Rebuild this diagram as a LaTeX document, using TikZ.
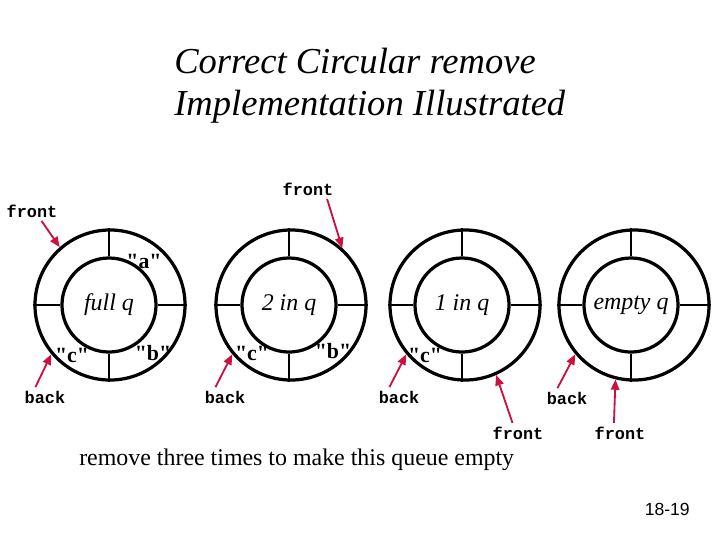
\documentclass[tikz,border=0pt]{standalone}
\usepackage{fontspec}
\setmainfont{Liberation Serif}
\setsansfont{Liberation Sans}
\setmonofont{Liberation Mono}
\newfontfamily\valfont{Liberation Serif}
\usetikzlibrary{arrows.meta}
\definecolor{qred}{HTML}{CC1040}
\tikzset{
  outerring/.style={circle, draw=black, line width=2.3pt, minimum size=3.75cm, inner sep=0pt},
  innerring/.style={circle, draw=black, line width=2.3pt, minimum size=2.35cm, inner sep=0pt,
    font=\fontsize{17}{19}\selectfont\itshape},
  spoke/.style={line width=1.6pt, black},
  val/.style={font=\fontsize{15.5}{17}\selectfont\valfont\bfseries, inner sep=1pt},
  ptrlbl/.style={font=\fontsize{12}{14}\selectfont\ttfamily\bfseries, inner sep=1.5pt},
  ptr/.style={-{Triangle[length=2.6mm, width=2.1mm]}, line width=1.3pt, qred, shorten <=1pt},
  ttl/.style={font=\fontsize{26}{30}\selectfont\itshape, inner sep=0pt},
}
\begin{document}
\begin{tikzpicture}[x=0.025cm, y=-0.025cm]
  \useasboundingbox (0,0) rectangle (720,540);
  % title
  \node[ttl, anchor=base west] (ttl1) at (174,73) {Correct Circular remove};
  \node[ttl, anchor=base west] (ttl2) at (174,115) {Implementation Illustrated};

  % the four queues
  \node[outerring] (r1) at (110,305) {};
  \node[innerring] (c1) at (109,305) {full q};
  \node[outerring] (r2) at (291,305) {};
  \node[innerring] (c2) at (289,305) {2 in q};
  \node[outerring] (r3) at (465,305) {};
  \node[innerring] (c3) at (462,305) {1 in q};
  \node[outerring] (r4) at (634,305) {};
  \node[innerring] (c4) at (631,305) {empty q};
  \foreach \i in {1,...,4}{
    \draw[spoke] (c\i.north) -- (c\i.north |- r\i.north);
    \draw[spoke] (c\i.south) -- (c\i.south |- r\i.south);
    \draw[spoke] (c\i.east) -- (r\i.east);
    \draw[spoke] (c\i.west) -- (r\i.west);
  }

  % stored values
  \node[val] (va1) at (144,261) {"a"};
  \node[val] (vb1) at (153,353) {"b"};
  \node[val] (vc1) at (72,355) {"c"};
  \node[val] (vb2) at (333,351) {"b"};
  \node[val] (vc2) at (252,353) {"c"};
  \node[val] (vc3) at (425,355) {"c"};

  % front and back pointers
  \node[ptrlbl] (f1) at (32,211) {front};
  \node[ptrlbl] (k1) at (45,397) {back};
  \node[ptrlbl] (f2) at (308,189) {front};
  \node[ptrlbl] (k2) at (225,397) {back};
  \node[ptrlbl] (k3) at (399,397) {back};
  \node[ptrlbl] (f3) at (518,433) {front};
  \node[ptrlbl] (k4) at (567,398) {back};
  \node[ptrlbl] (f4) at (620,433) {front};

  \draw[ptr] (f1.-45) -- (r1.131);
  \draw[ptr] (k1.140) -- (r1.220);
  \draw[ptr] (f2.-25) -- (r2.48);
  \draw[ptr] (k2.140) -- (r2.220);
  \draw[ptr] (k3.140) -- (r3.220);
  \draw[ptr] (f3.120) -- (r3.294);
  \draw[ptr] (k4.140) -- (r4.220);
  \draw[ptr] (f4.125) -- (r4.256);

  % caption and page number
  \node[font=\fontsize{17}{20}\selectfont, anchor=base west, inner sep=0pt] (note) at (79,465)
    {remove three times to make this queue empty};
  \node[font=\fontsize{12.5}{14}\selectfont\sffamily, anchor=base east, inner sep=0pt] (pg) at (690,515) {18-19};
\end{tikzpicture}
\end{document}
